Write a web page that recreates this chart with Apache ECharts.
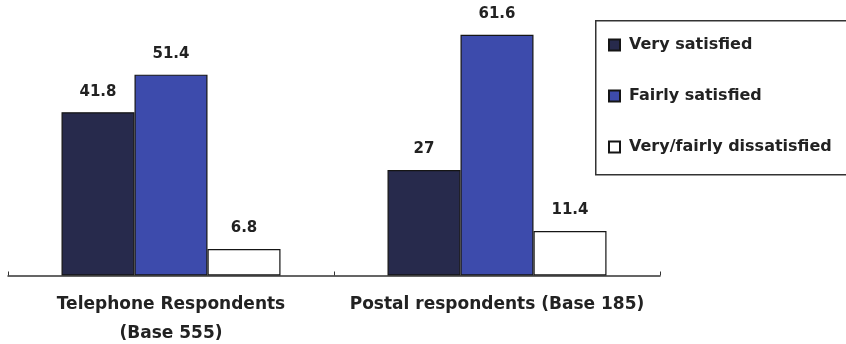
<!DOCTYPE html>
<html>
<head>
<meta charset="utf-8">
<script src="https://cdn.jsdelivr.net/npm/echarts@6/dist/echarts.min.js"></script>
<style>html,body{margin:0;padding:0;background:#fff}#c{width:846px;height:344px}</style>
</head>
<body>
<div id="c"></div>
<script>
var categories = ['Telephone Respondents\n(Base 555)', 'Postal respondents (Base 185)'];
var seriesNames = ['Very satisfied', 'Fairly satisfied', 'Very/fairly dissatisfied'];
var verySatisfied = [41.8, 27];
var fairlySatisfied = [51.4, 61.6];
var dissatisfied = [6.8, 11.4];
var colors = ['#272a4c', '#3d4bac', '#ffffff'];

var font = 'DejaVu Sans';
function bar(name, data, color) {
  return {
    name: name, type: 'bar', data: data, barWidth: 73, barGap: '0%',
    itemStyle: { color: color, borderColor: '#151515', borderWidth: 1.2 },
    label: { show: true, position: 'top', distance: 13, fontFamily: font, fontWeight: 'bold', fontSize: 15, color: '#222' }
  };
}
var chart = echarts.init(document.getElementById('c'), null, { renderer: 'canvas' });
chart.setOption({
  animation: false,
  backgroundColor: '#fff',
  grid: { left: 8, right: 186, top: 2, bottom: 68.5, containLabel: false, outerBoundsMode: 'none' },
  xAxis: {
    type: 'category', data: categories,
    axisLine: { lineStyle: { color: '#333', width: 1.5 } },
    axisTick: { show: true, inside: true, length: 4, lineStyle: { color: '#333' } },
    axisLabel: { margin: 15, fontFamily: font, fontWeight: 'bold', fontSize: 17, lineHeight: 29, color: '#222', interval: 0 }
  },
  yAxis: { type: 'value', min: 0, max: 70, show: false, splitLine: { show: false } },
  legend: {
    orient: 'vertical', left: 608, top: 37, padding: 0, itemGap: 35,
    itemWidth: 11, itemHeight: 11, icon: 'rect',
    data: seriesNames,
    textStyle: { fontFamily: font, fontWeight: 'bold', fontSize: 16, lineHeight: 16, color: '#222', padding: [0, 0, 0, 4] }
  },
  graphic: [{
    type: 'rect', left: 595, top: 20, z: -1,
    shape: { width: 300, height: 154 },
    style: { fill: '#fff', stroke: '#333', lineWidth: 1.5 }
  }],
  series: [
    bar(seriesNames[0], verySatisfied, colors[0]),
    bar(seriesNames[1], fairlySatisfied, colors[1]),
    bar(seriesNames[2], dissatisfied, colors[2])
  ]
});
</script>
</body>
</html>
